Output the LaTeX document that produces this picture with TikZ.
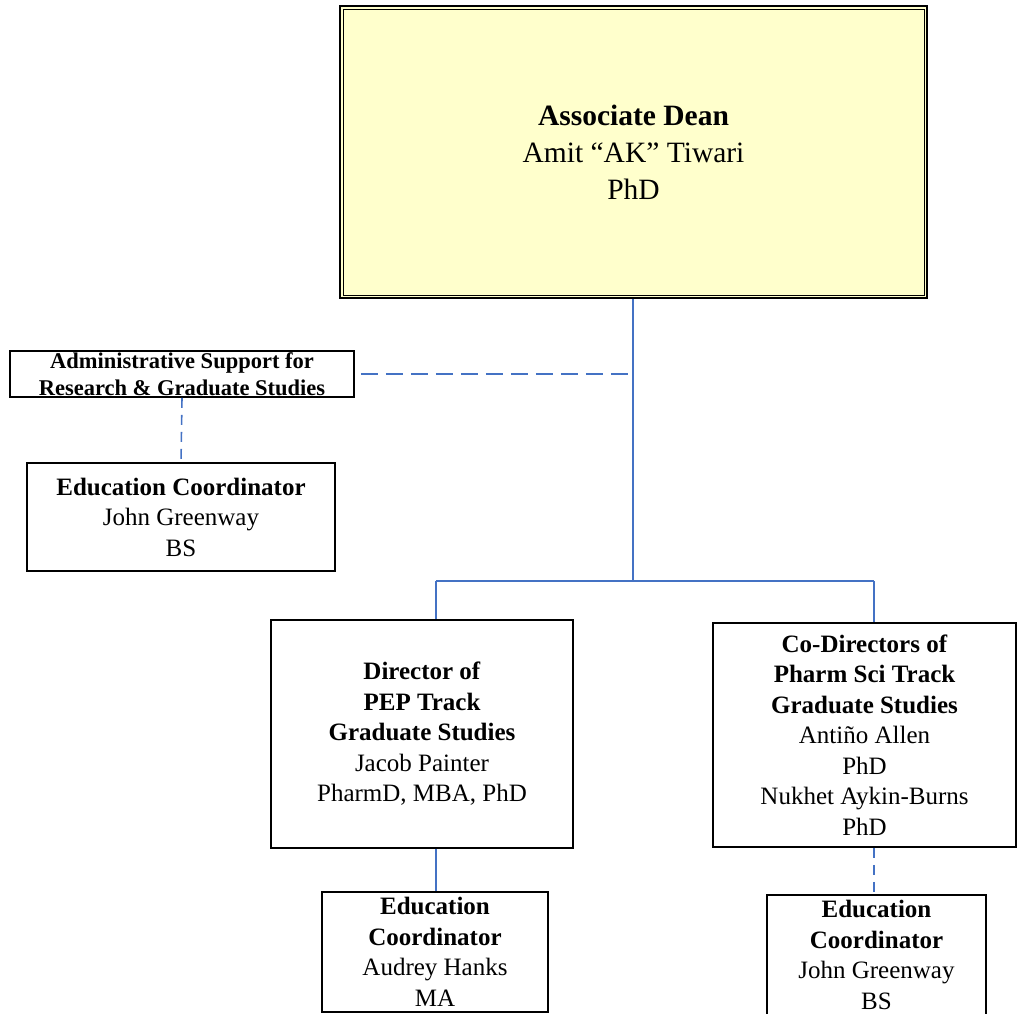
\documentclass[tikz,border=0pt]{standalone}
\usepackage{fontspec}
\setmainfont{Liberation Serif}
\definecolor{conn}{HTML}{4472C4}
\definecolor{deanfill}{HTML}{FFFFCC}
\begin{document}
\begin{tikzpicture}[x=1pt,y=-1pt,
  box/.style={draw=black, line width=1.6pt, fill=white, align=center, inner sep=0pt,
              font=\fontsize{25}{30.5}\selectfont},
  link/.style={draw=conn, line width=1.6pt},
  dlink/.style={link, dash pattern=on 10pt off 7pt},
  hdlink/.style={link, dash pattern=on 17pt off 8pt}]
\useasboundingbox (0,0) rectangle (1019,1013);

% nodes
\node[box, minimum width=587pt, minimum height=292pt, fill=deanfill, line width=2pt,
      font=\fontsize{29.5}{37}\selectfont] (dean) at (633.5,152)
  {\textbf{Associate Dean}\\Amit “AK” Tiwari\\PhD};
\draw[line width=1pt] ([shift={(4,4)}]dean.north west) rectangle ([shift={(-4,-4)}]dean.south east);

\node[box, minimum width=344pt, minimum height=46pt,
      font=\fontsize{22.5}{27}\selectfont] (admin) at (182,374)
  {\textbf{Administrative Support for}\\\textbf{Research \& Graduate Studies}};

\node[box, minimum width=308pt, minimum height=108pt] (edleft) at (181,517)
  {\textbf{Education Coordinator}\\John Greenway\\BS};

\node[box, minimum width=302pt, minimum height=228pt] (pep) at (422,734)
  {\textbf{Director of}\\\textbf{PEP Track}\\\textbf{Graduate Studies}\\Jacob Painter\\PharmD, MBA, PhD};

\node[box, minimum width=303pt, minimum height=224pt] (codir) at (864.5,735)
  {\textbf{Co-Directors of}\\\textbf{Pharm Sci Track}\\\textbf{Graduate Studies}\\Antiño Allen\\PhD\\Nukhet Aykin-Burns\\PhD};

\node[box, minimum width=226pt, minimum height=120pt] (edpep) at (435,952)
  {\textbf{Education}\\\textbf{Coordinator}\\Audrey Hanks\\MA};

\node[box, minimum width=219pt, minimum height=120pt] (edcodir) at (876.5,955)
  {\textbf{Education}\\\textbf{Coordinator}\\John Greenway\\BS};

% connectors
\coordinate (bus) at (633,581);
\coordinate (busL) at (436,581);
\coordinate (busR) at (874,581);

\draw[link] (bus |- dean.south) -- (bus);
\draw[link] (busL) -- (busR);
\draw[link] (busL) -- (busL |- pep.north);
\draw[link] (busR) -- (busR |- codir.north);
\draw[hdlink] ([xshift=6pt]admin.east) -- (admin.east -| bus);
\draw[dlink] (admin.south) -- (edleft.north);
\draw[link] (busL |- pep.south) -- (busL |- edpep.north);
\draw[dlink] (busR |- codir.south) -- (busR |- edcodir.north);
\end{tikzpicture}
\end{document}
